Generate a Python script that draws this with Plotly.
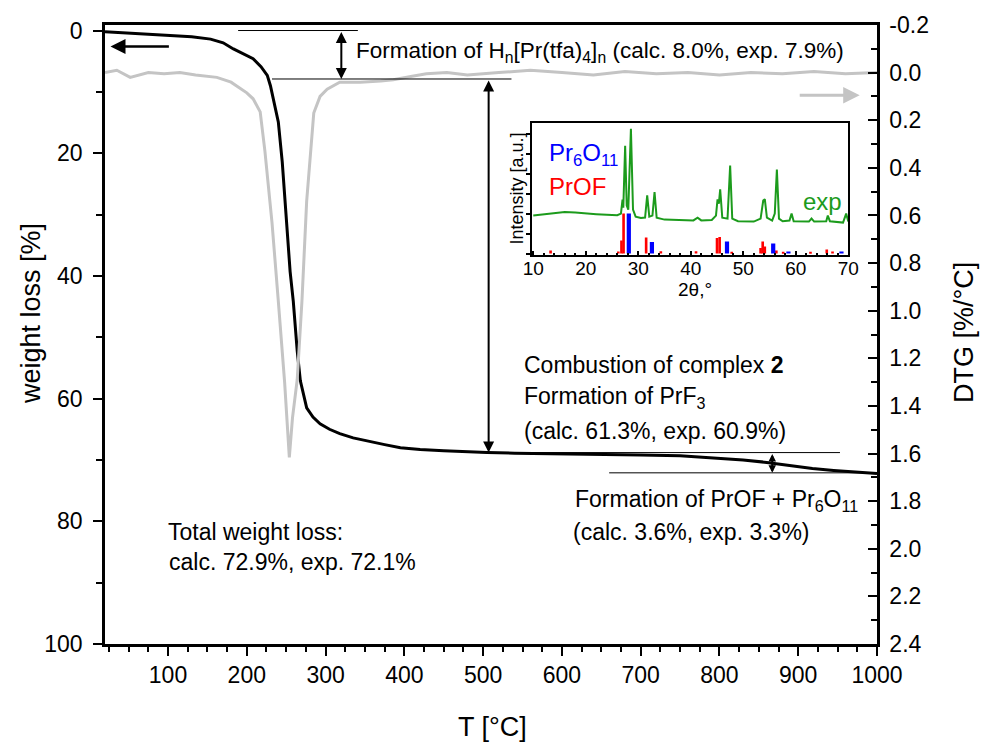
import plotly.graph_objects as go

# ---- thermogravimetric curve (weight loss, %) ----
tg_T = [20, 50, 80, 103, 130, 154, 170, 183, 196, 208, 218, 226, 230, 234, 240,
        245, 250, 255, 259, 264, 268, 272, 276, 284, 293, 305, 318, 335, 352,
        375, 395, 420, 450, 480, 505, 540, 580, 620, 660, 700, 750, 790, 830,
        860, 890, 918, 945, 970, 1000]
tg_wt = [0.2, 0.4, 0.6, 0.8, 1.0, 1.4, 2.0, 3.0, 3.9, 4.6, 5.9, 7.3, 9.0, 11.6,
         14.9, 21.4, 31.1, 39.3, 44.1, 52.2, 57.1, 59.6, 61.5, 63.0, 64.1, 65.0,
         65.7, 66.4, 66.9, 67.5, 68.0, 68.3, 68.5, 68.7, 68.8, 68.9, 69.0, 69.1,
         69.2, 69.2, 69.3, 69.6, 70.0, 70.4, 70.9, 71.4, 71.7, 71.9, 72.2]

# ---- derivative curve (DTG, %/°C) ----
dtg_T = [20, 35, 52, 75, 95, 115, 135, 162, 180, 192, 200, 208, 217, 223, 232,
         240, 248, 254, 258, 264, 270, 276, 285, 293, 302, 318, 344, 370, 386,
         410, 428, 454, 480, 520, 560, 600, 640, 680, 720, 760, 800, 840, 880,
         920, 960, 1000]
dtg_val = [0.0, -0.01, 0.02, 0.0, 0.005, 0.0, 0.01, 0.02, 0.04, 0.068, 0.085,
           0.11, 0.165, 0.33, 0.63, 0.96, 1.30, 1.616, 1.45, 1.29, 0.96, 0.54,
           0.17, 0.10, 0.07, 0.04, 0.04, 0.035, 0.03, 0.015, 0.005, 0.0, 0.01,
           0.0, -0.01, 0.0, 0.01, -0.005, 0.005, 0.0, 0.01, 0.0, 0.005, -0.005,
           0.005, 0.0]

# right-axis tick labels (plain hyphen for the negative value)
dtg_ticks = [-0.2, 0.0, 0.2, 0.4, 0.6, 0.8, 1.0, 1.2, 1.4, 1.6, 1.8, 2.0, 2.2, 2.4]
dtg_ticktext = ["%.1f" % v for v in dtg_ticks]

# ---- decomposition step levels (cumulative exp. weight loss, %) ----
step_levels = [0.0, 7.9, 68.8, 72.1]

# ---- XRD pattern of the residue ----
xrd_2theta = [10, 12, 14, 16, 18, 20, 22, 24, 26, 26.7, 27.0, 27.15, 27.5, 27.8,
              28.1, 28.6, 29.0, 29.5, 30.5, 31.3, 31.7, 32.1, 32.7, 33.1, 33.5,
              35, 38, 40.5, 41.3, 42, 44, 44.8, 45.1, 45.35, 45.6, 46.0, 47.0,
              47.5, 47.9, 49, 52, 53.3, 53.8, 54.1, 54.5, 55.5, 56.0, 56.4, 56.8,
              57.5, 58.8, 59.2, 59.6, 62.5, 63.0, 63.5, 65.8, 66.1, 66.5, 69.0,
              69.6, 70]
xrd_int = [1.90, 1.95, 2.02, 2.08, 2.05, 2.0, 1.97, 1.94, 1.92, 2.0, 2.7, 2.3,
           5.4, 2.4, 2.2, 6.25, 2.2, 1.85, 1.78, 1.8, 2.92, 1.85, 1.9, 3.08,
           1.8, 1.7, 1.68, 1.66, 1.8, 1.66, 1.68, 1.9, 2.72, 2.5, 3.22, 1.8,
           1.75, 4.41, 1.75, 1.62, 1.6, 1.75, 2.65, 2.72, 1.8, 1.65, 2.0, 4.21,
           1.75, 1.62, 1.65, 2.0, 1.62, 1.6, 1.75, 1.6, 1.62, 1.9, 1.62, 1.55,
           2.0, 1.6]

# reference patterns (stick positions / relative intensities)
prof_2theta = [13.3, 26.2, 26.8, 27.2, 31.5, 34.3, 41.0, 45.0, 45.5, 47.8, 53.3,
               53.7, 54.1, 56.3, 57.6, 62.8, 65.9, 67.0]
prof_int = [0.15, 0.1, 0.66, 2.0, 0.8, 0.12, 0.12, 0.78, 0.83, 0.06, 0.28, 0.61,
            0.36, 0.15, 0.08, 0.08, 0.21, 0.1]
pr6o11_2theta = [28.2, 32.6, 46.9, 55.7, 58.6, 68.7]
pr6o11_int = [2.0, 0.58, 0.61, 0.5, 0.1, 0.1]

FONT = "Liberation Sans, Arial, sans-serif"
GRAY = "#c4c4c4"
GREEN = "#1c9b1c"

# plot-area pixel frame, used to place free text
L, R, T, B = 105, 877, 23, 644


def paper(xp, yp):
    return (xp - L) / (R - L), (B - yp) / (B - T)


fig = go.Figure()

fig.add_trace(go.Scatter(x=dtg_T, y=dtg_val, yaxis="y2", mode="lines",
                         line=dict(color=GRAY, width=3), showlegend=False))
fig.add_trace(go.Scatter(x=tg_T, y=tg_wt, mode="lines",
                         line=dict(color="black", width=3), showlegend=False))

# inset: XRD
fig.add_trace(go.Bar(x=prof_2theta, y=prof_int, width=0.5, marker_color="red",
                     marker_line_width=0, xaxis="x3", yaxis="y3", showlegend=False))
fig.add_trace(go.Bar(x=pr6o11_2theta, y=pr6o11_int, width=0.8, marker_color="blue",
                     marker_line_width=0, xaxis="x3", yaxis="y3", showlegend=False))
fig.add_trace(go.Scatter(x=xrd_2theta, y=xrd_int, mode="lines",
                         line=dict(color=GREEN, width=2), xaxis="x3", yaxis="y3",
                         showlegend=False))

shapes = []
# level lines marking each decomposition step
level_spans = [(189, 341), (232, 536), (496, 953), (660, 1000)]
for lvl, (x0, x1) in zip(step_levels, level_spans):
    shapes.append(dict(type="line", xref="x", yref="y", x0=x0, x1=x1, y0=lvl, y1=lvl,
                       line=dict(color="black", width=1)))

annotations = []
# double arrows spanning each step
for xa, (a, b), sz in zip([320, 507, 867], zip(step_levels[:-1], step_levels[1:]),
                          [1.1, 1.1, 0.75]):
    annotations.append(dict(x=xa, y=b, ax=xa, ay=a, xref="x", yref="y", axref="x",
                            ayref="y", text="", showarrow=True, arrowhead=2,
                            startarrowhead=2, arrowside="end+start", arrowsize=sz,
                            startarrowsize=sz, arrowwidth=2, arrowcolor="black",
                            standoff=0, startstandoff=0))

# axis-direction arrows
annotations.append(dict(x=27, y=2.6, ax=103, ay=2.6, xref="x", yref="y", axref="x",
                        ayref="y", text="", showarrow=True, arrowhead=2, arrowsize=1.2,
                        arrowwidth=2.5, arrowcolor="black", standoff=0))
annotations.append(dict(x=978, y=0.095, ax=900, ay=0.095, xref="x", yref="y2",
                        axref="x", ayref="y2", text="", showarrow=True, arrowhead=2,
                        arrowsize=1.1, arrowwidth=3, arrowcolor=GRAY, standoff=0))


def label(xp, yp, text, size=23, color="black", anchor="left", angle=0):
    px_, py_ = paper(xp, yp)
    annotations.append(dict(x=px_, y=py_, xref="paper", yref="paper", text=text,
                            showarrow=False, xanchor=anchor, yanchor="middle",
                            textangle=angle,
                            font=dict(family=FONT, size=size, color=color)))


label(354, 50, "Formation of H<sub>n</sub>[Pr(tfa)<sub>4</sub>]<sub>n</sub> (calc. 8.0%, exp. 7.9%)", size=22.5)
label(522, 364, "Combustion of complex <b>2</b>")
label(522, 397, "Formation of PrF<sub>3</sub>")
label(522, 430, "(calc. 61.3%, exp. 60.9%)")
label(573, 500, "Formation of PrOF + Pr<sub>6</sub>O<sub>11</sub>")
label(571, 532, "(calc. 3.6%, exp. 3.3%)")
label(166, 532, "Total weight loss:")
label(167, 562, "calc. 72.9%, exp. 72.1%")

# inset labels
label(547, 153, "Pr<sub>6</sub>O<sub>11</sub>", size=24, color="blue")
label(547, 185, "PrOF", size=24, color="red")
label(801, 200, "exp", size=24, color=GREEN)
label(695, 288, "2θ,°", size=19, anchor="center")
label(517, 187, "Intensity [a.u.]", size=18, anchor="center", angle=-90)

# axis titles
label(31, 313, "weight loss [%]", size=27, anchor="center", angle=-90)
label(964, 332, "DTG [%/°C]", size=27, anchor="center", angle=-90)
label(492, 727, "T [°C]", size=27, anchor="center")

tickfont = dict(family=FONT, size=23, color="black")

fig.update_layout(
    width=984, height=744,
    margin=dict(l=L, r=984 - R, t=T, b=744 - B),
    paper_bgcolor="white", plot_bgcolor="white",
    barmode="overlay",
    shapes=shapes, annotations=annotations,
    xaxis=dict(range=[20, 1000], dtick=100, tick0=0, showgrid=False, zeroline=False,
               showline=True, linewidth=2.5, linecolor="black", mirror=True,
               ticks="outside", ticklen=9, tickwidth=2, tickcolor="black",
               minor=dict(dtick=25, ticks="outside", ticklen=5, tickwidth=1.5,
                          tickcolor="black"),
               tickfont=tickfont),
    yaxis=dict(range=[100, -0.9], tickvals=[0, 20, 40, 60, 80, 100], showgrid=False,
               zeroline=False, showline=True, linewidth=2.5, linecolor="black",
               ticks="outside", ticklen=9, tickwidth=2, tickcolor="black",
               ticklabelstandoff=6,
               minor=dict(tickvals=[10, 30, 50, 70, 90], ticks="outside", ticklen=6,
                          tickwidth=2, tickcolor="black"),
               tickfont=tickfont),
    yaxis2=dict(overlaying="y", side="right", range=[2.4, -0.2], tickvals=dtg_ticks,
                ticktext=dtg_ticktext, showgrid=False, zeroline=False, showline=True,
                linewidth=2.5, linecolor="black", ticks="inside", ticklen=9,
                tickwidth=2, tickcolor="black", ticklabelstandoff=5,
                minor=dict(dtick=0.1, ticks="inside", ticklen=6, tickwidth=2,
                           tickcolor="black"),
                tickfont=tickfont),
    xaxis3=dict(domain=[0.5527, 0.9628], anchor="y3", range=[9.7, 70], dtick=10,
                tick0=0, showgrid=False, zeroline=False, showline=True, linewidth=2,
                linecolor="black", mirror=True, ticks="inside", ticklen=4,
                tickwidth=1.5, tickcolor="black", ticklabelstandoff=-4,
                minor=dict(dtick=2, ticks="inside", ticklen=2, tickcolor="black"),
                tickfont=dict(family=FONT, size=19, color="black")),
    yaxis3=dict(domain=[0.6291, 0.8422], anchor="x3", range=[-0.05, 6.55], dtick=1,
                tick0=0, showgrid=False, zeroline=False, showline=True, linewidth=2,
                linecolor="black", mirror=True, ticks="outside", ticklen=4,
                tickwidth=1.5, tickcolor="black", showticklabels=False),
)

fig.write_html("out.html")
